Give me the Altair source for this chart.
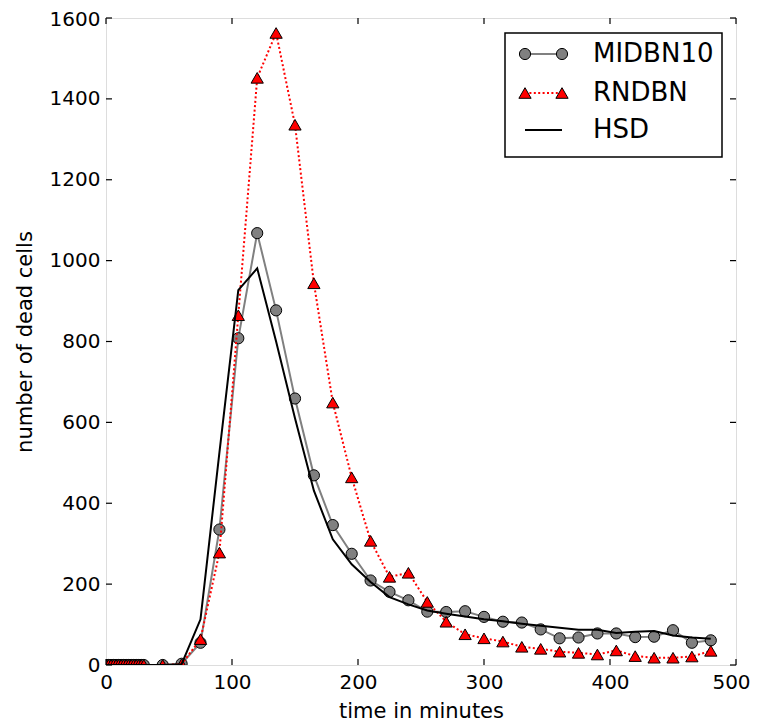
import altair as alt
import pandas as pd

# ---- data ----
early_t = [0, 2, 4, 6, 8, 10, 12, 14, 16, 18, 20, 22, 24, 26, 28, 30]
late_t = [45, 60, 75, 90, 105, 120, 135, 150, 165, 180, 195, 210, 225, 240, 255, 270,
          285, 300, 315, 330, 345, 360, 375, 390, 405, 420, 435, 450, 465, 480]
time = early_t + late_t

midbn_late = [0, 3, 55, 335, 808, 1068, 877, 659, 469, 346, 275, 209, 181, 160, 132, 131,
              133, 119, 107, 105, 88, 66, 68, 78, 78, 69, 70, 86, 55, 61]
rndbn_late = [0, 2, 64, 278, 865, 1452, 1563, 1336, 944, 649, 464, 307, 218, 228, 156, 107,
              76, 66, 58, 45, 40, 33, 30, 26, 36, 22, 18, 18, 21, 35]
hsd_late = [0, 2, 113, 525, 927, 981, 800, 610, 431, 311, 249, 205, 168, 150, 135, 127,
            120, 113, 108, 102, 97, 92, 87, 87, 79, 82, 84, 73, 68, 65]

zeros = [0] * len(early_t)
midbn = zeros + midbn_late
rndbn = zeros + rndbn_late
hsd = zeros + hsd_late

series_names = ["MIDBN10", "RNDBN", "HSD"]
x_ticks = [0, 100, 200, 300, 400, 500]
y_ticks = [0, 200, 400, 600, 800, 1000, 1200, 1400, 1600]

W, H = 630, 647
FONT = "DejaVu Sans"

df = pd.DataFrame({"t": time, "MIDBN10": midbn, "RNDBN": rndbn, "HSD": hsd})

xs = alt.Scale(domain=[0, 500], nice=False, zero=False)
ys = alt.Scale(domain=[0, 1600], nice=False)

X = alt.X("t:Q", scale=xs, axis=alt.Axis(values=x_ticks, ticks=False, domain=False, grid=False,
                                         labelFlush=False, format="d",
                                         labelOffset={"condition": {"test": "datum.value == 500", "value": -5}, "value": 0},
                                         labelPadding=7, labelFontSize=20, labelFont=FONT,
                                         labelColor="black", title="time in minutes",
                                         titleFontSize=21, titleFont=FONT, titleFontWeight="normal",
                                         titleY=46, titleBaseline="middle", titleColor="black"))
Yaxis = alt.Axis(values=y_ticks, ticks=False, domain=False, grid=False, labelPadding=6,
                 labelFlush=False, format="d",
                 labelOffset={"condition": {"test": "datum.value == 1600", "value": 1}, "value": 0},
                 labelFontSize=20, labelFont=FONT, labelColor="black",
                 title="number of dead cells", titleFontSize=21, titleFont=FONT,
                 titleFontWeight="normal", titleX=-81, titleY=H / 2, titleBaseline="middle",
                 titleColor="black")

base = alt.Chart(df)

mid_line = base.mark_line(color="#808080", strokeWidth=2, clip=True).encode(
    x=X, y=alt.Y("MIDBN10:Q", scale=ys, axis=Yaxis))
mid_pts = base.mark_point(shape="circle", filled=True, fill="#808080", stroke="black",
                          strokeWidth=1, size=125, opacity=1, clip=True).encode(
    x=alt.X("t:Q", scale=xs), y=alt.Y("MIDBN10:Q", scale=ys))
rnd_line = base.mark_line(color="red", strokeWidth=2, strokeDash=[2, 2.4], clip=True).encode(
    x=alt.X("t:Q", scale=xs), y=alt.Y("RNDBN:Q", scale=ys))
rnd_pts = base.mark_point(shape="triangle-up", filled=True, fill="red", stroke="black",
                          strokeWidth=1, size=150, opacity=1, clip=True).encode(
    x=alt.X("t:Q", scale=xs), y=alt.Y("RNDBN:Q", scale=ys))
hsd_line = base.mark_line(color="black", strokeWidth=2, clip=True).encode(
    x=alt.X("t:Q", scale=xs), y=alt.Y("HSD:Q", scale=ys))

# inward ticks on all four sides
xt = alt.Chart(pd.DataFrame({"v": x_ticks}))
yt = alt.Chart(pd.DataFrame({"v": y_ticks}))
tick_style = dict(color="black", strokeWidth=1.2)
xb = xt.mark_rule(**tick_style).encode(x=alt.X("v:Q", scale=xs), y=alt.value(H), y2=alt.value(H - 6))
xtop = xt.mark_rule(**tick_style).encode(x=alt.X("v:Q", scale=xs), y=alt.value(0), y2=alt.value(6))
yl = yt.mark_rule(**tick_style).encode(y=alt.Y("v:Q", scale=ys), x=alt.value(0), x2=alt.value(6))
yr = yt.mark_rule(**tick_style).encode(y=alt.Y("v:Q", scale=ys), x=alt.value(W), x2=alt.value(W - 6))

# legend (drawn as a box in the upper right)
leg_df = pd.DataFrame({"name": series_names})
leg = alt.Chart(leg_df)
LX0, LX1, LT = 419, 456, 487
rows = [36, 75, 112]
box = leg.transform_filter(alt.datum.name == "MIDBN10").mark_rect(
    fill="white", stroke="black", strokeWidth=1.5).encode(
    x=alt.value(399), x2=alt.value(616), y=alt.value(15), y2=alt.value(139))

leg_layers = [box]
for name, ry in zip(series_names, rows):
    sub = leg.transform_filter(alt.datum.name == name)
    if name == "MIDBN10":
        leg_layers.append(sub.mark_rule(color="#808080", strokeWidth=2).encode(
            x=alt.value(LX0), x2=alt.value(LX1), y=alt.value(ry)))
        for px in (LX0, LX1):
            leg_layers.append(sub.mark_point(shape="circle", filled=True, fill="#808080",
                                             stroke="black", strokeWidth=1, size=125,
                                             opacity=1).encode(x=alt.value(px), y=alt.value(ry)))
    elif name == "RNDBN":
        leg_layers.append(sub.mark_rule(color="red", strokeWidth=2, strokeDash=[2, 2.4]).encode(
            x=alt.value(LX0), x2=alt.value(LX1), y=alt.value(ry)))
        for px in (LX0, LX1):
            leg_layers.append(sub.mark_point(shape="triangle-up", filled=True, fill="red",
                                             stroke="black", strokeWidth=1, size=150,
                                             opacity=1).encode(x=alt.value(px), y=alt.value(ry)))
    else:
        leg_layers.append(sub.mark_rule(color="black", strokeWidth=2).encode(
            x=alt.value(LX0), x2=alt.value(LX1), y=alt.value(ry)))
    leg_layers.append(sub.mark_text(align="left", baseline="middle", fontSize=26, font=FONT,
                                    color="black").encode(
        x=alt.value(LT), y=alt.value(ry), text="name:N"))

chart = alt.layer(mid_line, mid_pts, rnd_line, rnd_pts, hsd_line, xb, xtop, yl, yr,
                  *leg_layers).properties(
    width=W, height=H,
    autosize=alt.AutoSizeParams(type="none"),
    padding={"left": 98, "top": 10, "right": 15, "bottom": 58},
).configure_view(stroke="black", strokeWidth=1.5).configure(background="white")

chart.save("out.html", embed_options={"renderer": "svg", "actions": False})
